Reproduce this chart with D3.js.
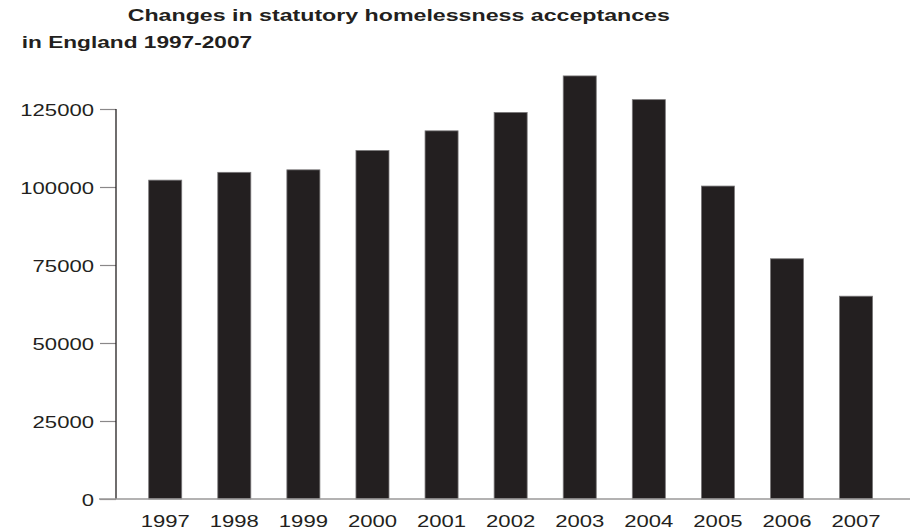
<!DOCTYPE html>
<html>
<head>
<meta charset="utf-8">
<script src="https://cdn.jsdelivr.net/npm/d3@7"></script>
<style>
  html, body { margin: 0; padding: 0; background: #fff; }
  svg { display: block; }
  text { font-family: "Liberation Sans", Arial, Helvetica, sans-serif; fill: #231f20; }
</style>
</head>
<body>
<script>
const years = ["1997","1998","1999","2000","2001","2002","2003","2004","2005","2006","2007"];
const acceptances = [102200, 104700, 105500, 111700, 118000, 123900, 135600, 128000, 100300, 77000, 65000];
const yTicks = [0, 25000, 50000, 75000, 100000, 125000];
const titleLines = ["Changes in statutory homelessness acceptances", "in England 1997-2007"];

const W = 910, H = 529;
const ink = "#231f20";

const svg = d3.select("body").append("svg").attr("width", W).attr("height", H);

const x = d3.scaleBand().domain(years).range([148.7, 872.6]).paddingInner(0.522).paddingOuter(0);
const y = d3.scaleLinear().domain([0, 125000]).range([499, 109]);

// text stretched horizontally like the reference
function stretched(sel, sx) {
  sel.each(function() {
    const t = d3.select(this);
    const ax = +t.attr("data-x"), ay = +t.attr("data-y");
    t.attr("transform", `translate(${ax},${ay}) scale(${sx},1)`);
  });
}

// title
const title = svg.append("g");
title.append("text").text(titleLines[0])
  .attr("data-x", 127.7).attr("data-y", 20.7)
  .style("font-size", "16.8px").style("font-weight", "bold")
  .call(stretched, 1.38);
title.append("text").text(titleLines[1])
  .attr("data-x", 21.7).attr("data-y", 48.3)
  .style("font-size", "16.8px").style("font-weight", "bold")
  .call(stretched, 1.35);

// bars
svg.append("g").selectAll("rect").data(years).join("rect")
  .attr("x", d => x(d))
  .attr("width", x.bandwidth())
  .attr("y", (d, i) => y(acceptances[i]))
  .attr("height", (d, i) => y(0) - y(acceptances[i]))
  .attr("fill", ink)
  .attr("stroke", "#7a7879")
  .attr("stroke-width", 0.8);

// y axis
const yAxis = svg.append("g").attr("transform", "translate(116,0)")
  .call(d3.axisLeft(y).tickValues(yTicks).tickSize(16).tickPadding(6).tickFormat(d3.format("d")));
yAxis.select(".domain").remove();
yAxis.selectAll(".tick line").attr("stroke", "#8a8889").attr("stroke-width", 1.2);
yAxis.selectAll(".tick text")
  .style("font-size", "17px")
  .attr("dy", null)
  .attr("dominant-baseline", "central")
  .attr("transform", "scale(1.3,1)")
  .attr("x", -22 / 1.3);
svg.append("line")
  .attr("x1", 116).attr("x2", 116)
  .attr("y1", y(125000)).attr("y2", y(0))
  .attr("stroke", ink).attr("stroke-width", 1.3);

// x axis
const xAxis = svg.append("g").attr("transform", `translate(0,${y(0)})`)
  .call(d3.axisBottom(x).tickSize(0).tickPadding(0));
xAxis.select(".domain").remove();
xAxis.selectAll(".tick text")
  .style("font-size", "17px")
  .attr("dy", null)
  .attr("y", 28)
  .attr("transform", "scale(1.3,1)");
svg.append("line")
  .attr("x1", 99).attr("x2", 910)
  .attr("y1", y(0)).attr("y2", y(0))
  .attr("stroke", "#9a9899").attr("stroke-width", 1.6);
</script>
</body>
</html>
